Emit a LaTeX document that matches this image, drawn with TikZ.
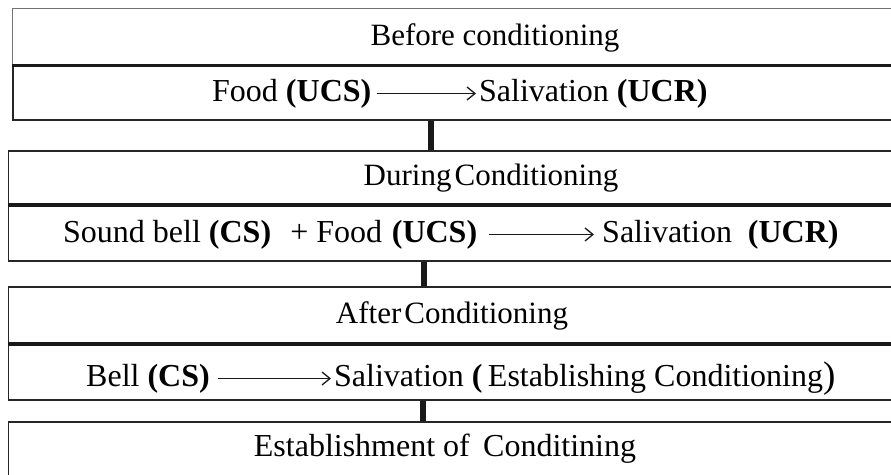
\documentclass[tikz,border=0pt]{standalone}
\usepackage{fontspec}
\setmainfont{Liberation Serif}
\usetikzlibrary{arrows.meta}
\begin{document}
\begin{tikzpicture}[x=1pt,y=-1pt,
  boxa/.style={draw=black!55,line width=1.4pt,rectangle,inner sep=0pt,anchor=north west,minimum width=950pt},
  boxb/.style={draw=black!85,line width=1.8pt,rectangle,inner sep=0pt,anchor=north west,minimum width=950pt},
  sepline/.style={line width=3.6pt,black!90},
  vconn/.style={line width=6pt,black!90},
  txt/.style={inner sep=0pt,font=\fontsize{31}{36}\selectfont},
  rtxt/.style={inner sep=0pt,font=\fontsize{32}{36}\selectfont},
  flow/.style={line width=1.6pt,black!90,-{Straight Barb[length=8pt,width=13pt,line width=1.3pt]}}]
\useasboundingbox (0,0) rectangle (891,474);
\clip (0,0) rectangle (891,474);
\fill[white] (0,0) rectangle (891,474);
% boxes
\node[boxa,minimum height=57pt] (b1) at (12,8) {};
\node[boxb,minimum height=54pt] (b2) at (12,65) {};
\node[boxb,minimum height=55pt] (b3) at (7.5,150) {};
\node[boxb,minimum height=55pt] (b4) at (7.5,205) {};
\node[boxb,minimum height=58pt] (b5) at (7.5,286) {};
\node[boxb,minimum height=55pt] (b6) at (7.5,344) {};
\node[boxb,minimum height=80pt] (b7) at (7.5,421) {};
\draw[sepline,line width=3pt] (b2.north west) -- (b2.north east);
\draw[sepline] (b4.north west) -- (b4.north east);
\draw[sepline] (b6.north west) -- (b6.north east);
% vertical connectors
\coordinate (k1) at ([xshift=419pt]b2.south west);
\coordinate (k2) at ([xshift=416.5pt]b4.south west);
\coordinate (k3) at ([xshift=415.5pt]b6.south west);
\draw[vconn] (k1) -- (k1 |- b3.north);
\draw[vconn] (k2) -- (k2 |- b5.north);
\draw[vconn] (k3) -- (k3 |- b7.north);
% headers
\node[txt,anchor=base] (h1) at (495,45) {Before conditioning};
\node[txt,anchor=base] (h2) at (491,185) {During\hspace{0.1em}Conditioning};
\node[txt,anchor=base] (h3) at (452,323) {After\hspace{0.1em}Conditioning};
\node[rtxt,anchor=base] (h4) at (445,456) {Establishment of\, Conditining};
% row 2
\node[rtxt,anchor=base west] (r1a) at (212,101) {Food \textbf{(UCS)}};
\node[rtxt,anchor=base west] (r1b) at (479,101) {Salivation \textbf{(UCR)}};
\draw[flow,shorten <=5pt,shorten >=3pt] ([yshift=7.5pt]r1a.base east) -- ([yshift=7.5pt]r1b.base west);
% row 4
\node[rtxt,anchor=base west] (r2a) at (63,242) {Sound bell \textbf{(CS)}\hspace{0.6em}+ Food\hspace{0.3em}\textbf{(UCS)}};
\node[rtxt,anchor=base west] (r2b) at (602,242) {Salivation\ \ \textbf{(UCR)}};
\draw[flow,shorten <=12pt,shorten >=8pt] ([yshift=7.5pt]r2a.base east) -- ([yshift=7.5pt]r2b.base west);
% row 6
\node[rtxt,anchor=base west] (r3a) at (86,386) {Bell \textbf{(CS)}};
\node[rtxt,anchor=base west] (r3b) at (334,386) {Salivation \textbf{(}\,Establishing Conditioning\raisebox{-0.05em}{\fontsize{37}{37}\selectfont )}};
\draw[flow,shorten <=8pt,shorten >=3pt] ([yshift=7.5pt]r3a.base east) -- ([yshift=7.5pt]r3b.base west);
\end{tikzpicture}
\end{document}
